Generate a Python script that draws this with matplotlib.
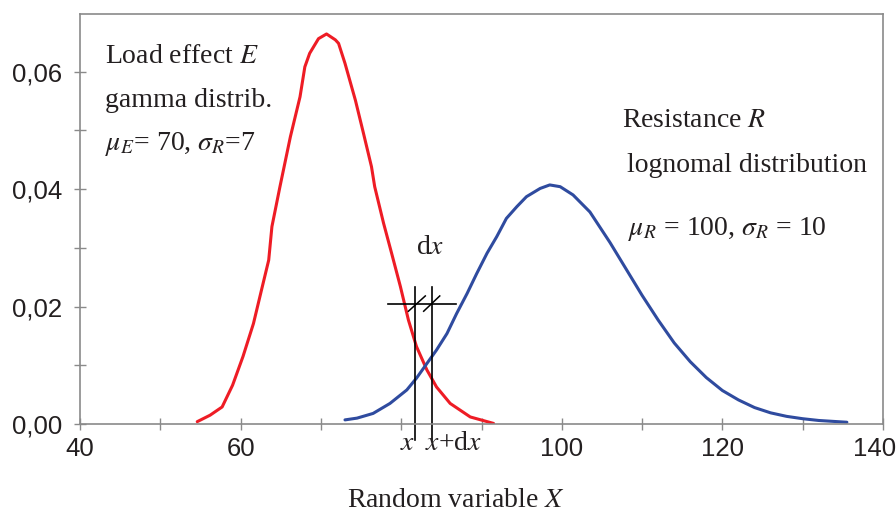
import matplotlib
matplotlib.use("Agg")
import matplotlib.pyplot as plt
import matplotlib.transforms as mtransforms

# values
load_x = [54.6, 56.2, 57.7, 59.0, 60.3, 61.6, 62.6, 63.5, 63.9, 64.9, 66.2, 67.4,
          68.0, 68.6, 69.7, 70.7, 71.8, 72.2, 73.0, 74.3, 75.3, 76.3, 76.7, 77.8,
          78.8, 79.9, 80.9, 81.9, 83.2, 84.4, 86.1, 88.6, 91.5]
load_y = [0.0004, 0.0015, 0.0029, 0.0066, 0.0115, 0.0171, 0.0228, 0.0279, 0.0336,
          0.0404, 0.0489, 0.0557, 0.0608, 0.0631, 0.0656, 0.0664, 0.0654, 0.0648,
          0.0614, 0.0551, 0.0495, 0.0438, 0.0404, 0.0342, 0.0291, 0.0234, 0.0177,
          0.0132, 0.0092, 0.0063, 0.0035, 0.0012, 0.0001]

res_x = [73.0, 74.5, 76.5, 78.6, 80.7, 81.9, 83.2, 84.4, 85.7, 86.9, 88.2, 89.4,
         90.7, 91.9, 93.1, 94.4, 95.6, 97.3, 98.5, 99.8, 101.4, 103.5, 106.0,
         108.0, 110.0, 112.0, 114.0, 116.0, 118.0, 120.0, 122.0, 124.0, 126.0,
         128.0, 130.0, 132.0, 135.5]
res_y = [0.0007, 0.0010, 0.0018, 0.0035, 0.0058, 0.0078, 0.0103, 0.0126, 0.0154,
         0.0188, 0.0222, 0.0256, 0.0291, 0.0319, 0.0350, 0.0370, 0.0387, 0.0401,
         0.0407, 0.0404, 0.0390, 0.0361, 0.0309, 0.0264, 0.0219, 0.0177, 0.0138,
         0.0106, 0.0079, 0.0057, 0.0041, 0.0028, 0.0019, 0.0013, 0.0009, 0.0006,
         0.0003]

x_ticks = [40, 60, 80, 100, 120, 140]
x_tick_labels = ["40", "60", "", "100", "120", "140"]
x_minor = [50, 70, 90, 110, 130]
y_ticks = [0.0, 0.02, 0.04, 0.06]
y_tick_labels = ["0,00", "0,02", "0,04", "0,06"]
y_minor = [0.01, 0.03, 0.05]

x_left, x_right = 81.72, 83.83   # x and x+dx

RED = "#ee1c25"
BLUE = "#2f4b9f"
GREY = "#8a8a8a"
INK = "#231f20"

plt.rcParams["mathtext.fontset"] = "stix"
SERIF = "Liberation Serif"

fig = plt.figure(figsize=(8.96, 5.15), dpi=100)
ax = fig.add_axes([80 / 896, 91 / 515, 803 / 896, 410 / 515])

ax.plot(load_x, load_y, color=RED, lw=2.2, solid_capstyle="round")
ax.plot(res_x, res_y, color=BLUE, lw=2.2, solid_capstyle="round")

# the dx construction
for xv in (x_left, x_right):
    ax.plot([xv, xv], [-0.0027, 0.0234], color="black", lw=1.2, clip_on=False)
ax.plot([78.4, 86.8], [0.0205, 0.0205], color="black", lw=1.2)
ax.plot([80.9, 83.0], [0.0192, 0.0218], color="black", lw=1.1)
ax.plot([82.8, 84.8], [0.0192, 0.0218], color="black", lw=1.1)

ax.set_xlim(40, 140)
ax.set_ylim(0, 0.0698)
ax.set_xticks(x_ticks)
ax.set_xticklabels(x_tick_labels)
ax.set_xticks(x_minor, minor=True)
ax.set_yticks(y_ticks)
ax.set_yticklabels(y_tick_labels)
ax.set_yticks(y_minor, minor=True)
ax.tick_params(which="both", direction="inout", length=8, width=1, color=GREY,
               labelsize=18.5, labelcolor=INK)
ax.tick_params(axis="x", pad=5)
ax.tick_params(axis="y", pad=9)
for lab in ax.get_xticklabels() + ax.get_yticklabels():
    lab.set_family("Liberation Sans")
# last label sits a little left so it stays on the canvas, as in the original
last = ax.get_xticklabels()[-1]
last.set_transform(last.get_transform() +
                   mtransforms.ScaledTranslation(-0.08, 0, fig.dpi_scale_trans))
for sp in ax.spines.values():
    sp.set_color(GREY)
    sp.set_linewidth(1.2)

txt = dict(family=SERIF, fontsize=20, color=INK, va="baseline")
ax.text(43.1, 0.0614, "Load effect $\\mathit{E}$", **txt)
ax.text(43.1, 0.0540, "gamma distrib.", **txt)
ax.text(43.1, 0.0466, "$\\mu_E$= 70, $\\sigma_R$=7", **txt)
ax.text(107.5, 0.0506, "Resistance $\\mathit{R}$", **txt)
ax.text(108.1, 0.0429, "lognomal distribution", **txt)
ax.text(108.3, 0.0322, "$\\mu_R$ = 100, $\\sigma_R$ = 10", **txt)
ax.text(81.8, 0.0290, "d$\\mathit{x}$", **txt)
ax.text(79.8, -0.0044, "$\\mathit{x}$", clip_on=False, **txt)
ax.text(83.0, -0.0044, "$\\mathit{x}$+d$\\mathit{x}$", clip_on=False, **txt)

fig.text(456 / 896, 1 - 507 / 515, "Random variable $\\mathit{X}$", ha="center",
         family=SERIF, fontsize=20, color=INK, va="baseline")

fig.savefig("out.png", dpi=100)
